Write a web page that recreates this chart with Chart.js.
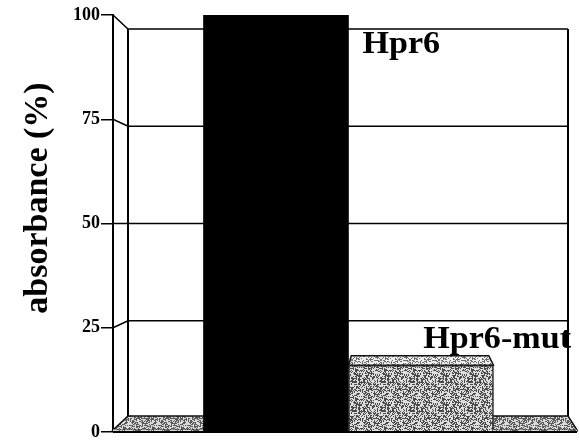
<!DOCTYPE html>
<html>
<head>
<meta charset="utf-8">
<script src="https://cdn.jsdelivr.net/npm/chart.js@4.4.0/dist/chart.umd.min.js"></script>
<style>
  html, body { margin: 0; padding: 0; background: #fff; }
  #wrap { width: 579px; height: 442px; }
</style>
</head>
<body>
<div id="wrap"><canvas id="chart"></canvas></div>
<script>
// dados do gráfico
const categories = ['', 'Hpr6', 'Hpr6-mut', ''];
const absorbance = [0.5, 100, 16, 0.5];
const yTicks = [0, 25, 50, 75, 100];
const axisTitle = 'absorbance (%)';

const serif = 'Liberation Serif';
const canvas = document.getElementById('chart');
const ctx0 = canvas.getContext('2d');

// textura granulada fixa (imitando a impressão)
function makePattern(dark, light, share) {
    const n = 29;
    const c = document.createElement('canvas');
    c.width = n; c.height = n;
    const g = c.getContext('2d');
    let s = 12345;
    for (let i = 0; i < n; i++) {
        for (let j = 0; j < n; j++) {
            s = (s * 1103515245 + 12345) % 2147483648;
            g.fillStyle = (s / 2147483648) < share ? light : dark;
            g.fillRect(i, j, 1, 1);
        }
    }
    return ctx0.createPattern(c, 'repeat');
}

const frontGray = makePattern('#4a4a4a', '#dedede', 0.55);
const topGray = makePattern('#6a6a6a', '#eeeeee', 0.65);
const floorGray = makePattern('#5a5a5a', '#dadada', 0.5);

const barColors = [floorGray, '#000000', frontGray, floorGray];
const topColors = [floorGray, null, topGray, floorGray];

// perspectiva: leva um ponto da frente para a parede do fundo
function toBack(area, x, y) {
    const w = area.right - area.left;
    const bx = area.left + 15 + (x - area.left) / w * (w - 24);
    const cy = (area.top + area.bottom) / 2;
    return [bx, cy + (y - cy) * 0.933];
}

const wallPlugin = {
    id: 'wall',
    beforeDatasetsDraw(chart) {
        const ctx = chart.ctx;
        const area = chart.chartArea;
        const ys = chart.scales.y;
        ctx.save();
        ctx.strokeStyle = '#000';
        ctx.lineWidth = 1.5;

        // linhas de grade na parede do fundo
        yTicks.forEach(v => {
            const fy = ys.getPixelForValue(v);
            const [bx, by] = toBack(area, area.left, fy);
            const [rx] = toBack(area, area.right, fy);
            ctx.beginPath();
            ctx.moveTo(area.left, fy);
            ctx.lineTo(bx, by);
            ctx.lineTo(rx, by);
            ctx.stroke();
        });

        // cantos da caixa
        const tl = toBack(area, area.left, area.top);
        const bl = toBack(area, area.left, area.bottom);
        const tr = toBack(area, area.right, area.top);
        const br = toBack(area, area.right, area.bottom);
        ctx.lineWidth = 2;
        ctx.beginPath();
        ctx.moveTo(tl[0], tl[1]); ctx.lineTo(bl[0], bl[1]);
        ctx.moveTo(tr[0], tr[1]); ctx.lineTo(br[0], br[1]);
        ctx.lineTo(area.right, area.bottom);
        ctx.stroke();

        // faces de cima das barras
        const meta = chart.getDatasetMeta(0);
        meta.data.forEach((bar, i) => {
            if (!topColors[i]) return;
            const x0 = Math.max(bar.x - bar.width / 2, area.left);
            const x1 = Math.min(bar.x + bar.width / 2, area.right);
            const y = bar.y;
            const b0 = toBack(area, x0, y);
            const b1 = toBack(area, x1, y);
            ctx.beginPath();
            ctx.moveTo(x0, y);
            ctx.lineTo(x1, y);
            ctx.lineTo(b1[0], b1[1]);
            ctx.lineTo(b0[0], b0[1]);
            ctx.closePath();
            ctx.fillStyle = topColors[i];
            ctx.fill();
            ctx.lineWidth = 1.5;
            ctx.strokeStyle = '#111';
            ctx.stroke();
        });
        ctx.restore();
    },
    afterDatasetsDraw(chart) {
        const ctx = chart.ctx;
        const area = chart.chartArea;
        const meta = chart.getDatasetMeta(0);
        ctx.save();

        // borda da frente do chão
        ctx.strokeStyle = '#000';
        ctx.lineWidth = 2;
        ctx.beginPath();
        ctx.moveTo(area.left, area.bottom);
        ctx.lineTo(area.right, area.bottom);
        ctx.stroke();

        // rótulos das barras (letra um pouco esticada, como no original)
        ctx.fillStyle = '#000';
        ctx.font = 'bold 31px "' + serif + '"';
        ctx.textBaseline = 'alphabetic';
        const stretch = 1.1;
        const b1 = meta.data[1];
        ctx.save();
        ctx.translate(b1.x + b1.width / 2 + 14, b1.y + 38);
        ctx.scale(stretch, 1);
        ctx.textAlign = 'left';
        ctx.fillText(categories[1], 0, 0);
        ctx.restore();
        const b2 = meta.data[2];
        ctx.save();
        ctx.translate(area.right - 6, b2.y - 17);
        ctx.scale(stretch, 1);
        ctx.textAlign = 'right';
        ctx.fillText(categories[2], 0, 0);
        ctx.restore();

        // título do eixo y
        ctx.translate(38, 198);
        ctx.rotate(-Math.PI / 2);
        ctx.textAlign = 'center';
        ctx.textBaseline = 'middle';
        ctx.font = 'bold 34px "' + serif + '"';
        ctx.fillText(axisTitle, 0, 0);
        ctx.restore();
    }
};

new Chart(canvas, {
    type: 'bar',
    data: {
        datasets: [{
            data: absorbance.map((v, i) => ({ x: i, y: v })),
            backgroundColor: barColors,
            borderColor: ['#222', '#000', '#222', '#222'],
            borderWidth: [0, 0, 1.5, 0],
            barPercentage: 1,
            categoryPercentage: 1,
            clip: 0
        }]
    },
    options: {
        responsive: true,
        maintainAspectRatio: false,
        animation: false,
        layout: { padding: { left: 0, top: 15, right: 2, bottom: 8 } },
        plugins: {
            legend: { display: false },
            tooltip: { enabled: false }
        },
        scales: {
            x: {
                type: 'linear',
                display: false,
                offset: false,
                min: -0.124,
                max: 3.076,
                afterBuildTicks: s => { s.ticks = categories.map((c, i) => ({ value: i })); }
            },
            y: {
                min: 0,
                max: 100,
                afterBuildTicks: s => { s.ticks = yTicks.map(v => ({ value: v })); },
                afterFit: s => { s.width = 113; },
                grid: {
                    drawOnChartArea: false,
                    drawTicks: true,
                    tickLength: 12,
                    color: '#000',
                    lineWidth: 1.5
                },
                border: { display: true, color: '#000', width: 2 },
                ticks: {
                    color: '#000',
                    padding: 1,
                    font: { family: serif, weight: 'bold', size: 18, lineHeight: 1 }
                }
            }
        }
    },
    plugins: [wallPlugin]
});
</script>
</body>
</html>
